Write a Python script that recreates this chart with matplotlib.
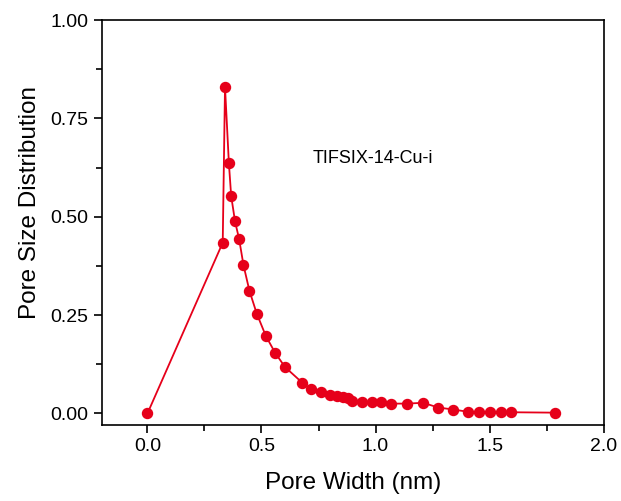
import matplotlib
matplotlib.use("Agg")
import matplotlib.pyplot as plt
from matplotlib.ticker import MultipleLocator

plt.rcParams['font.family'] = ['Liberation Sans', 'DejaVu Sans']

# pore width (nm) and pore size distribution
pore_width = [0.0, 0.330, 0.340, 0.357, 0.367, 0.384, 0.402, 0.421, 0.447, 0.479,
              0.519, 0.560, 0.603, 0.679, 0.717, 0.759, 0.801, 0.830, 0.859, 0.881,
              0.896, 0.942, 0.983, 1.023, 1.067, 1.137, 1.209, 1.275, 1.341, 1.407,
              1.454, 1.502, 1.549, 1.594, 1.787]
psd = [0.0, 0.434, 0.830, 0.636, 0.553, 0.488, 0.443, 0.377, 0.312, 0.254,
       0.197, 0.154, 0.118, 0.078, 0.061, 0.055, 0.048, 0.044, 0.042, 0.038,
       0.032, 0.030, 0.028, 0.028, 0.025, 0.025, 0.027, 0.015, 0.010, 0.004,
       0.004, 0.004, 0.004, 0.003, 0.002]

red = '#E6001A'

fig = plt.figure(figsize=(6.21, 5.01), dpi=100)
ax = fig.add_axes([0.164, 0.152, 0.808, 0.808])

ax.plot(pore_width, psd, '-o', color=red, lw=1.3, ms=7.2, mec=red, mfc=red)

ax.set_xlim(-0.2, 2.0)
ax.set_ylim(-0.029, 1.0)
ax.xaxis.set_major_locator(MultipleLocator(0.5))
ax.xaxis.set_minor_locator(MultipleLocator(0.25))
ax.yaxis.set_major_locator(MultipleLocator(0.25))
ax.yaxis.set_minor_locator(MultipleLocator(0.125))
ax.xaxis.set_major_formatter(plt.FormatStrFormatter('%.1f'))
ax.yaxis.set_major_formatter(plt.FormatStrFormatter('%.2f'))

ax.tick_params(which='major', direction='out', length=6, width=1.2, labelsize=14)
ax.tick_params(which='minor', direction='out', length=4, width=1.2)
for s in ax.spines.values():
    s.set_linewidth(1.2)

ax.set_xlabel('Pore Width (nm)', fontsize=17.5, labelpad=12)
ax.set_ylabel('Pore Size Distribution', fontsize=17.5)
ax.yaxis.set_label_coords(-0.122, 0.55)

ax.text(0.726, 0.649, 'TIFSIX-14-Cu-i', fontsize=13, va='center', ha='left')

fig.savefig('out.png', dpi=100)
